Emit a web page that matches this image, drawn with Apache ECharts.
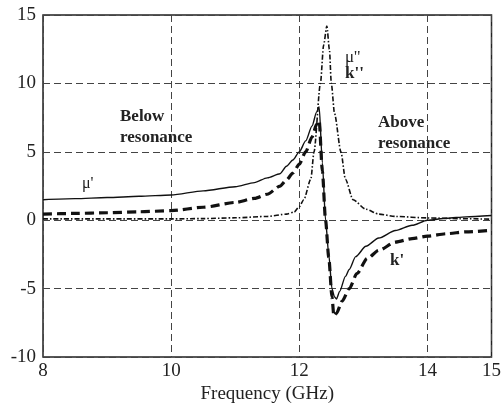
<!DOCTYPE html>
<html>
<head>
<meta charset="utf-8">
<script src="https://cdn.jsdelivr.net/npm/echarts@6/dist/echarts.min.js"></script>
<style>
  html, body { margin: 0; padding: 0; background: #fff; }
  #chart { width: 504px; height: 409px; }
</style>
</head>
<body>
<div id="chart"></div>
<script>
// frequency (GHz) and values
var freqMuReal = [8, 8.5, 9, 9.5, 10, 10.5, 11, 11.3, 11.5, 11.7, 11.8, 11.9, 12.0, 12.1, 12.2, 12.27, 12.31,
  12.36, 12.41, 12.46, 12.51, 12.55, 12.58, 12.63, 12.72, 12.78, 12.88, 13.04, 13.24, 13.5, 13.76, 14.0, 14.3, 14.6, 15];
var muReal = [1.5, 1.58, 1.66, 1.75, 1.85, 2.15, 2.45, 2.75, 3.1, 3.4, 3.95, 4.4, 5.0, 5.8, 6.9, 7.9, 8.3,
  4.2, 0, -2.5, -5.0, -5.6, -5.75, -5.2, -4.1, -3.6, -2.66, -1.9, -1.3, -0.75, -0.37, 0, 0.15, 0.25, 0.35];

var freqKReal = [8, 8.5, 9, 9.5, 10, 10.5, 11, 11.3, 11.5, 11.7, 11.8, 11.9, 12.0, 12.1, 12.2, 12.27, 12.31,
  12.36, 12.41, 12.46, 12.51, 12.54, 12.58, 12.67, 12.78, 12.9, 13.06, 13.24, 13.5, 13.76, 14.0, 14.3, 14.6, 15];
var kReal = [0.45, 0.5, 0.55, 0.62, 0.7, 0.95, 1.3, 1.6, 1.9, 2.5, 2.95, 3.45, 4.1, 5.0, 6.1, 7.0, 7.3,
  3.6, 0, -2.7, -5.6, -7.0, -6.8, -5.9, -5.0, -3.9, -2.8, -2.2, -1.6, -1.34, -1.16, -0.98, -0.85, -0.73];

var freqImag = [8, 9, 10, 10.5, 11, 11.5, 11.8, 11.92, 12.0, 12.07, 12.18, 12.23, 12.33, 12.38, 12.43,
  12.47, 12.5, 12.55, 12.65, 12.72, 12.84, 13.04, 13.24, 13.5, 14.0, 14.5, 15];
var muImag = [0.1, 0.1, 0.1, 0.12, 0.18, 0.28, 0.45, 0.6, 1.0, 1.5, 3.0, 5.0, 10.0, 12.8, 14.2,
  12.5, 10.0, 7.8, 5.0, 3.0, 1.5, 0.8, 0.45, 0.28, 0.17, 0.12, 0.08];

var yTicks = [-10, -5, 0, 5, 10, 15];

function pairs(xs, ys) {
  var out = [];
  for (let i = 0; i < xs.length; i++) out.push([xs[i], ys[i]]);
  return out;
}

var font = '"Liberation Serif", "Times New Roman", serif';
var myChart = echarts.init(document.getElementById('chart'));

var option = {
  animation: false,
  backgroundColor: '#fff',
  grid: {
    left: 43, right: 12, top: 15, bottom: 47,
    show: true, borderColor: '#222', borderWidth: 1.5
  },
  xAxis: {
    type: 'value', min: 8, max: 15, interval: 2,
    name: 'Frequency (GHz)', nameLocation: 'middle', nameGap: 27,
    nameTextStyle: { fontFamily: font, fontSize: 19, color: '#222' },
    axisLine: { show: false },
    axisTick: { show: false },
    axisLabel: { fontFamily: font, fontSize: 19, color: '#222', margin: 4, showMaxLabel: true },
    splitLine: { show: true, lineStyle: { color: '#444', width: 1, type: [7, 4] } }
  },
  yAxis: {
    type: 'value', min: yTicks[0], max: yTicks[yTicks.length - 1], interval: 5,
    axisLine: { show: false },
    axisTick: { show: false },
    axisLabel: { fontFamily: font, fontSize: 19, color: '#222', margin: 7 },
    splitLine: { show: true, lineStyle: { color: '#444', width: 1, type: [7, 4] } }
  },
  series: [
    {
      name: "mu'", type: 'line', showSymbol: false, smooth: 0.25, smoothMonotone: 'x',
      data: pairs(freqMuReal, muReal),
      lineStyle: { color: '#111', width: 1.4, type: 'solid' }
    },
    {
      name: "k'", type: 'line', showSymbol: false, smooth: 0.25, smoothMonotone: 'x',
      data: pairs(freqKReal, kReal),
      lineStyle: { color: '#111', width: 3.2, type: [9, 5] }
    },
    {
      name: "mu''", type: 'line', showSymbol: false, smooth: 0.25, smoothMonotone: 'x',
      data: pairs(freqImag, muImag),
      lineStyle: { color: '#111', width: 1.6, type: [5, 2, 1.5, 2] }
    }
  ],
  graphic: [
    { type: 'text', left: 120, top: 106, style: { text: 'Below\nresonance', font: 'bold 17px ' + font, fill: '#222', lineHeight: 21 } },
    { type: 'text', left: 378, top: 112, style: { text: 'Above\nresonance', font: 'bold 17px ' + font, fill: '#222', lineHeight: 21 } },
    { type: 'text', left: 82, top: 176, style: { text: "\u03bc'", font: '16px ' + font, fill: '#222' } },
    { type: 'text', left: 345, top: 49, style: { text: "\u03bc''", font: '17px ' + font, fill: '#222' } },
    { type: 'text', left: 345, top: 65, style: { text: "k''", font: 'bold 17px ' + font, fill: '#222' } },
    { type: 'text', left: 390, top: 252, style: { text: "k'", font: 'bold 17px ' + font, fill: '#222' } }
  ]
};

myChart.setOption(option);
</script>
</body>
</html>
